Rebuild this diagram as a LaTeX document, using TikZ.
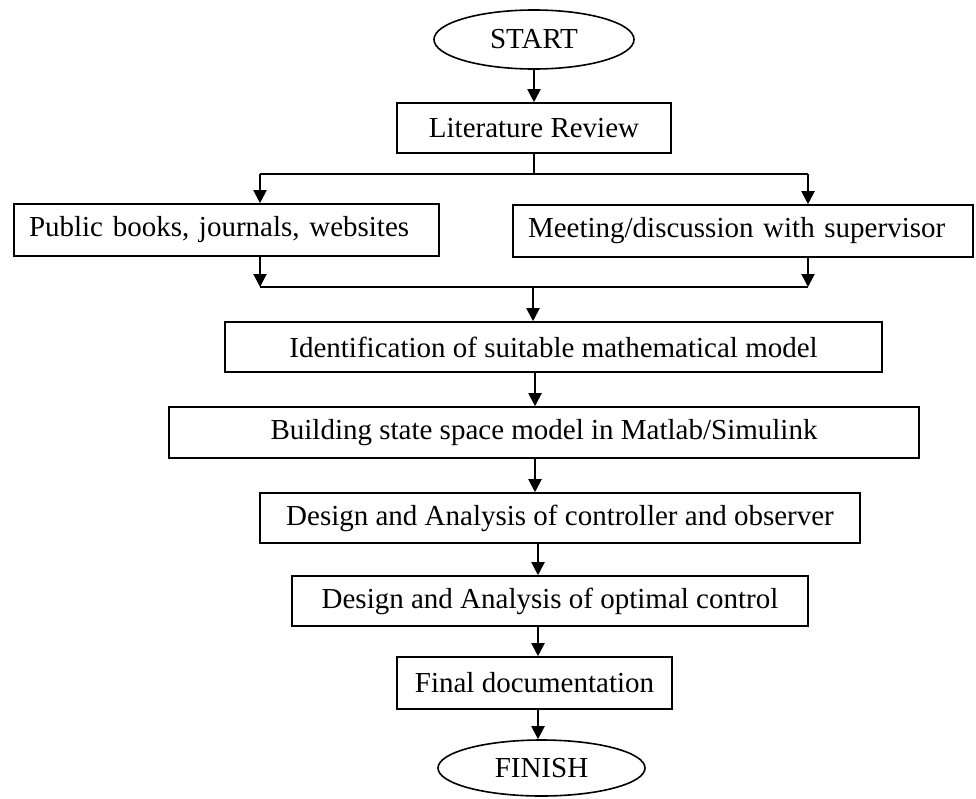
\documentclass[tikz,border=0pt]{standalone}
\usepackage{fontspec}
\setmainfont{Liberation Serif}
\usetikzlibrary{arrows.meta,shapes.geometric}
\begin{document}
\begin{tikzpicture}[x=1pt,y=-1pt,
  every node/.style={font=\fontsize{29}{34}\selectfont},
  box/.style={draw,line width=1.6pt,rectangle,inner sep=0pt,minimum height=50pt},
  sidebox/.style={draw,line width=1.6pt,rectangle,inner xsep=15pt,inner ysep=0pt,minimum height=52pt,align=left},
  term/.style={draw,line width=1.6pt,ellipse,inner sep=0pt},
  conn/.style={line width=2pt},
  arr/.style={line width=2pt,-{Triangle[length=13pt,width=13pt]}}]
\useasboundingbox (0,0) rectangle (976,798);

\node[term,minimum width=200pt,minimum height=59pt] (start) at (534,39.5) {START};
\node[box,minimum width=274pt] (lit) at (534,128) {Literature Review};
\node[sidebox,text width=395pt] (pub) at (226.5,230) {Public books, journals, websites};
\node[sidebox,text width=430pt] (meet) at (743,231) {Meeting/discussion with supervisor};
\node[box,minimum width=657pt] (ident) at (553.5,347) {Identification of suitable mathematical model};
\node[box,minimum width=750pt,minimum height=51pt] (build) at (544,432.5) {Building state space model in Matlab/Simulink};
\node[box,minimum width=600pt] (ctrl) at (560,518) {Design and Analysis of controller and observer};
\node[box,minimum width=516pt] (opt) at (550,601) {Design and Analysis of optimal control};
\node[box,minimum width=275pt,minimum height=52pt] (fin) at (534.5,683) {Final documentation};
\node[term,minimum width=207pt,minimum height=56pt] (finish) at (541.5,768) {FINISH};

\coordinate (sL) at (260,174);
\coordinate (sR) at (808,174);
\coordinate (jL) at (260,287);
\coordinate (jR) at (808,287);
\coordinate (jC) at (533,287);
\coordinate (c1) at (535,0);
\coordinate (c2) at (538,0);

\draw[arr] (start) -- (lit);
\draw[conn] (lit.south) -- (lit.south |- sL);
\draw[conn] (sL) -- (sR);
\draw[arr] (sL) -- (pub.north -| sL);
\draw[arr] (sR) -- (meet.north -| sR);
\draw[arr] (pub.south -| jL) -- (jL);
\draw[arr] (meet.south -| jR) -- (jR);
\draw[conn] (jL) -- (jR);
\draw[arr] (jC) -- (ident.north -| jC);
\draw[arr] (ident.south -| c1) -- (build.north -| c1);
\draw[arr] (build.south -| c1) -- (ctrl.north -| c1);
\draw[arr] (ctrl.south -| c2) -- (opt.north -| c2);
\draw[arr] (opt.south -| c2) -- (fin.north -| c2);
\draw[arr] (fin.south -| c2) -- (finish.north -| c2);
\end{tikzpicture}
\end{document}
